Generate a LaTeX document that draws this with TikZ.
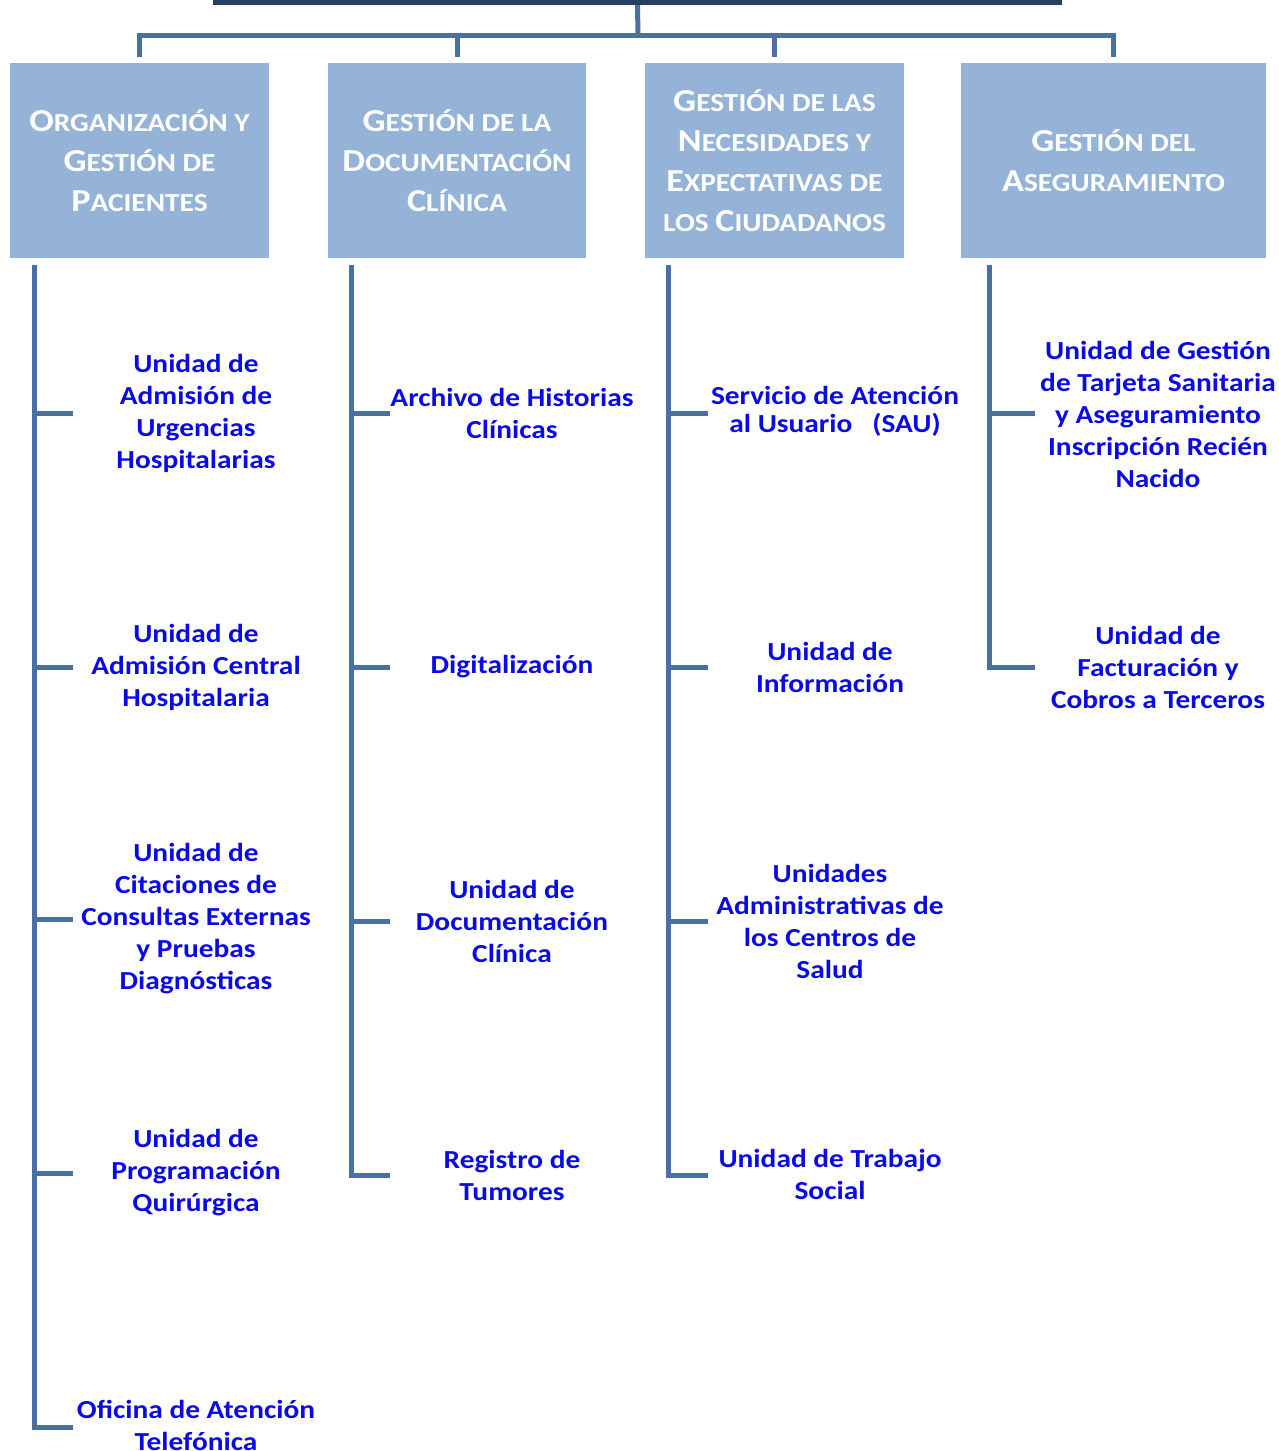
\documentclass[tikz,border=0pt]{standalone}
\usepackage{fontspec}
\setmainfont{Carlito}[FakeStretch=1.13]
\usepackage{xcolor}
\definecolor{cajaazul}{HTML}{95B3D7}
\definecolor{lineaazul}{HTML}{4A6FA3}
\definecolor{barra}{HTML}{243F60}
\definecolor{textoazul}{HTML}{0A0AE6}
\newcommand{\may}[1]{{\fontsize{32}{40}\selectfont #1}}

\begin{document}
\begin{tikzpicture}[x=1pt, y=-1pt,
    area/.style={rectangle, fill=cajaazul, minimum height=195pt, inner sep=0pt,
      text=white, align=center, font=\bfseries\fontsize{26}{40}\selectfont},
    unidad/.style={align=center, text=textoazul, inner sep=0pt,
      font=\bfseries\fontsize{26}{32}\selectfont},
    linea/.style={draw=lineaazul, line width=5pt}
  ]
  \useasboundingbox (0,0) rectangle (1279,1451);

  %Barra de la direccion
  \node[fill=barra, minimum width=849pt, minimum height=10pt, inner sep=0pt] (dir) at (637.5,0) {};

  %Areas
  \node[area, minimum width=259pt] (p1) at (139.5,160.5)
    {\may{O}RGANIZACIÓN Y\\ \may{G}ESTIÓN DE\\ \may{P}ACIENTES};
  \node[area, minimum width=258pt] (p2) at (457,160.5)
    {\may{G}ESTIÓN DE LA\\ \may{D}OCUMENTACIÓN\\ \may{C}LÍNICA};
  \node[area, minimum width=259pt] (p3) at (774.5,160.5)
    {\may{G}ESTIÓN DE LAS\\ \may{N}ECESIDADES Y\\ \may{E}XPECTATIVAS DE\\ LOS \may{C}IUDADANOS};
  \node[area, minimum width=305pt] (p4) at (1113.5,160.5)
    {\may{G}ESTIÓN DEL\\ \may{A}SEGURAMIENTO};

  %Conexion de la direccion con las areas
  \coordinate (bus) at (638,35);
  \coordinate (t1) at ([yshift=6pt]p1.north);
  \coordinate (t2) at ([yshift=6pt]p2.north);
  \coordinate (t3) at ([yshift=6pt]p3.north);
  \coordinate (t4) at ([yshift=6pt]p4.north);
  \draw[linea] (dir.south) -- (bus);
  \draw[linea] (t1) |- (bus -| t4) -- (t4);
  \draw[linea] (t2) -- (t2 |- bus);
  \draw[linea] (t3) -- (t3 |- bus);

  %Unidades de Organizacion y Gestion de Pacientes
  \node[unidad] (u11) at (196,413) {Unidad de\\Admisión de\\Urgencias\\Hospitalarias};
  \node[unidad] (u12) at (196,667) {Unidad de\\Admisión Central\\Hospitalaria};
  \node[unidad] (u13) at (196,919) {Unidad de\\Citaciones de\\Consultas Externas\\y Pruebas\\Diagnósticas};
  \node[unidad] (u14) at (196,1173) {Unidad de\\Programación\\Quirúrgica};
  \node[unidad] (u15) at (196,1425) {Oficina de Atención\\Telefónica};

  %Unidades de Gestion de la Documentacion Clinica
  \node[unidad] (u21) at (512,413) {Archivo de Historias\\Clínicas};
  \node[unidad] (u22) at (512,667) {Digitalización};
  \node[unidad] (u23) at (512,921) {Unidad de\\Documentación\\Clínica};
  \node[unidad] (u24) at (512,1175) {Registro de\\Tumores};

  %Unidades de Gestion de las Necesidades y Expectativas
  \node[unidad, font=\bfseries\fontsize{26}{28}\selectfont] (u31) at (835,411) {Servicio de Atención\\al Usuario\ \ \ (SAU)};
  \node[unidad] (u32) at (830,667) {Unidad de\\Información};
  \node[unidad] (u33) at (830,921) {Unidades\\Administrativas de\\los Centros de\\Salud};
  \node[unidad] (u34) at (830,1174) {Unidad de Trabajo\\Social};

  %Unidades de Gestion del Aseguramiento
  \node[unidad] (u41) at (1158,414) {Unidad de Gestión\\de Tarjeta Sanitaria\\y Aseguramiento\\Inscripción Recién\\Nacido};
  \node[unidad] (u42) at (1158,667) {Unidad de\\Facturación y\\Cobros a Terceros};

  %Lineas verticales y ramas
  \coordinate (s1) at ([xshift=25pt, yshift=-7pt]p1.south west);
  \coordinate (s2) at ([xshift=24pt, yshift=-7pt]p2.south west);
  \coordinate (s3) at ([xshift=24pt, yshift=-7pt]p3.south west);
  \coordinate (s4) at ([xshift=29pt, yshift=-7pt]p4.south west);

  \coordinate (b11) at (73,413);
  \coordinate (b12) at (73,667);
  \coordinate (b13) at (73,919);
  \coordinate (b14) at (73,1173);
  \coordinate (b15) at (73,1427);
  \draw[linea] (s1) |- (b15);
  \draw[linea] (s1 |- b11) -- (b11);
  \draw[linea] (s1 |- b12) -- (b12);
  \draw[linea] (s1 |- b13) -- (b13);
  \draw[linea] (s1 |- b14) -- (b14);

  \coordinate (b21) at (390,413);
  \coordinate (b22) at (390,667);
  \coordinate (b23) at (390,921);
  \coordinate (b24) at (390,1175);
  \draw[linea] (s2) |- (b24);
  \draw[linea] (s2 |- b21) -- (b21);
  \draw[linea] (s2 |- b22) -- (b22);
  \draw[linea] (s2 |- b23) -- (b23);

  \coordinate (b31) at (708,413);
  \coordinate (b32) at (708,667);
  \coordinate (b33) at (708,921);
  \coordinate (b34) at (708,1175);
  \draw[linea] (s3) |- (b34);
  \draw[linea] (s3 |- b31) -- (b31);
  \draw[linea] (s3 |- b32) -- (b32);
  \draw[linea] (s3 |- b33) -- (b33);

  \coordinate (b41) at (1035,413);
  \coordinate (b42) at (1035,667);
  \draw[linea] (s4) |- (b42);
  \draw[linea] (s4 |- b41) -- (b41);

\end{tikzpicture}
\end{document}
